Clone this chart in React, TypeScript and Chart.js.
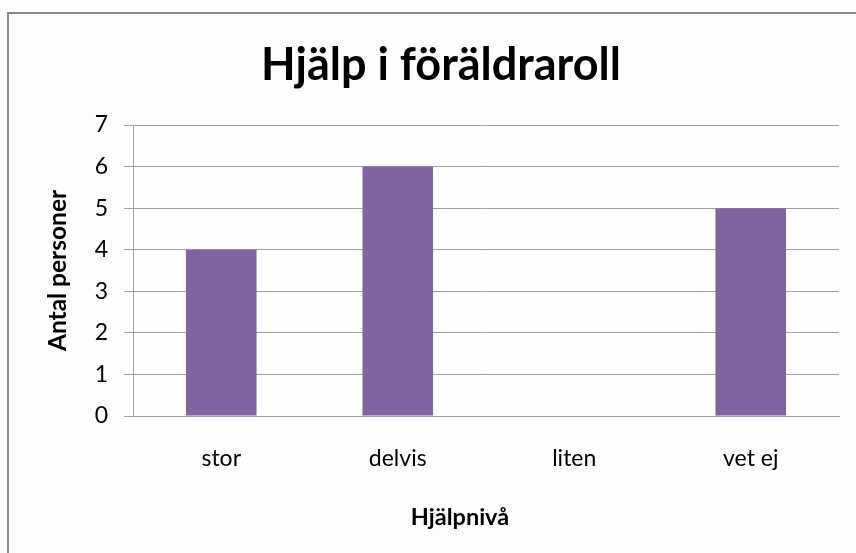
import React, { useEffect, useRef } from "react";
import { Chart, registerables } from "chart.js";

Chart.register(...registerables);

const TITLE = "Hjälp i föräldraroll";
const X_TITLE = "Hjälpnivå";
const Y_TITLE = "Antal personer";
const CATEGORIES = ["stor", "delvis", "liten", "vet ej"];
const VALUES = [4, 6, 0, 5];
const Y_MIN = 0;
const Y_MAX = 7;
const Y_STEP = 1;

const xTitlePlugin = {
  id: "xTitlePlugin",
  afterDraw(chart: any) {
    const ctx = chart.ctx;
    ctx.save();
    ctx.font = "bold 23.5px Lato";
    ctx.fillStyle = "#000";
    ctx.textAlign = "center";
    ctx.textBaseline = "middle";
    ctx.fillText(X_TITLE, 460, 517);
    ctx.restore();
  },
};

export default function App() {
  const ref = useRef<HTMLCanvasElement>(null);
  useEffect(() => {
    if (!ref.current) return;
    const chart = new Chart(ref.current, {
      type: "bar",
      data: {
        labels: CATEGORIES,
        datasets: [
          {
            data: VALUES,
            backgroundColor: "#8064A2",
            barPercentage: 0.4,
            categoryPercentage: 1,
          },
        ],
      },
      plugins: [xTitlePlugin],
      options: {
        animation: false,
        responsive: false,
        maintainAspectRatio: false,
        layout: { padding: { top: 0, left: 43, right: 17, bottom: 0 } },
        plugins: {
          legend: { display: false },
          tooltip: { enabled: false },
          title: {
            display: true,
            text: TITLE,
            color: "#000",
            font: { family: "Lato", size: 45, weight: "bold" },
            padding: { top: 38, bottom: 33 },
          },
        },
        scales: {
          x: {
            grid: { display: false, drawTicks: false },
            border: { display: true, color: "#a0a0a0", width: 1 },
            ticks: {
              color: "#000",
              font: { family: "Lato", size: 23 },
              padding: 29,
            },
            afterFit(scale: any) {
              scale.height = 137;
            },
          },
          y: {
            min: Y_MIN,
            max: Y_MAX,
            ticks: {
              stepSize: Y_STEP,
              color: "#000",
              font: { family: "Lato", size: 23 },
              padding: 16,
            },
            grid: { color: "#a0a0a0", lineWidth: 1, tickLength: 9, drawTicks: true },
            border: { display: true, color: "#a0a0a0", width: 1 },
            title: {
              display: true,
              text: Y_TITLE,
              color: "#000",
              font: { family: "Lato", size: 24.5, weight: "bold" },
              padding: { top: 0, bottom: 0 },
            },
            afterFit(scale: any) {
              scale.width = 90;
            },
          },
        },
      },
    });
    return () => chart.destroy();
  }, []);
  return (
    <div style={{ position: "fixed", left: 0, top: 0, width: 856, height: 553, background: "#fdfdfd" }}>
      <div
        style={{
          position: "absolute",
          left: 7,
          top: 12,
          width: 856,
          height: 553,
          borderTop: "2px solid #868686",
          borderLeft: "2px solid #868686",
          boxSizing: "border-box",
        }}
      />
      <canvas ref={ref} width={856} height={553} style={{ position: "absolute", left: 0, top: 0 }} />
    </div>
  );
}
